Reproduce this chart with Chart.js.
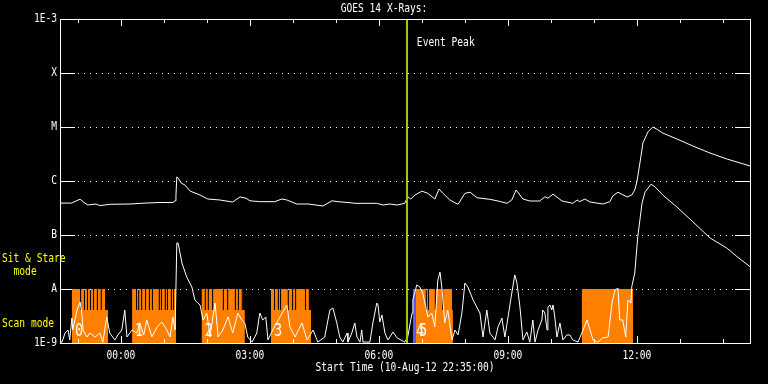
<!DOCTYPE html>
<html>
<head>
<meta charset="utf-8">
<script src="https://cdn.jsdelivr.net/npm/chart.js@4"></script>
<style>
  html, body { margin: 0; padding: 0; background: #000; }
  #wrap { width: 768px; height: 384px; }
</style>
</head>
<body>
<div id="wrap"><canvas id="goesChart" width="768" height="384"></canvas></div>
<script>
// time = hours from 00:00 on 11-Aug-12 (plot starts 10-Aug-12 22:35)
const xStart = -85 / 60;
const xEnd = 14.63;
const xTickHours = [0, 3, 6, 9, 12];
const xTickLabels = ['00:00', '03:00', '06:00', '09:00', '12:00'];
const yLevels = [1e-9, 1e-8, 1e-7, 1e-6, 1e-5, 1e-4, 1e-3];
const yLabels = ['1E-9', 'A', 'B', 'C', 'M', 'X', '1E-3'];
const eventPeak = 6.65;

// 1-8 A channel
const longTimes = [
  -1.42, -1.15, -0.95, -0.84, -0.77, -0.58, -0.49, -0.26, 0.21, 0.56,
  0.91, 1.21, 1.26, 1.28, 1.30, 1.33, 1.40, 1.49, 1.61, 1.84,
  2.02, 2.30, 2.60, 2.77, 2.91, 3.00, 3.23, 3.58, 3.74, 3.86,
  4.09, 4.35, 4.70, 4.91, 5.05, 5.33, 5.44, 5.95, 6.09, 6.26,
  6.42, 6.60, 6.67, 6.74, 6.84, 7.00, 7.14, 7.30, 7.40, 7.49,
  7.65, 7.84, 8.00, 8.12, 8.28, 8.58, 8.77, 8.98, 9.09, 9.19,
  9.35, 9.51, 9.74, 9.86, 9.93, 10.05, 10.26, 10.51, 10.61, 10.67,
  10.79, 10.91, 11.21, 11.37, 11.44, 11.56, 11.77, 11.88, 11.95, 12.00,
  12.07, 12.14, 12.26, 12.37, 12.47, 12.60, 12.93, 13.30, 13.70, 14.09,
  14.63
];
const longFlux = [
  3.9e-7, 3.9e-7, 4.6e-7, 3.9e-7, 3.6e-7, 3.75e-7, 3.5e-7, 3.7e-7, 3.75e-7, 3.9e-7,
  4.0e-7, 4.0e-7, 4.3e-7, 5.5e-7, 1.19e-6, 1.14e-6, 9.2e-7, 8.4e-7, 6.5e-7, 5.5e-7,
  4.64e-7, 4.45e-7, 4.08e-7, 5.06e-7, 4.8e-7, 4.3e-7, 4.14e-7, 4.14e-7, 4.64e-7, 4.45e-7,
  3.75e-7, 3.75e-7, 3.45e-7, 4.3e-7, 4.14e-7, 3.96e-7, 3.86e-7, 3.86e-7, 3.59e-7, 3.75e-7,
  3.59e-7, 3.86e-7, 5.1e-7, 4.64e-7, 5.5e-7, 6.5e-7, 5.9e-7, 4.64e-7, 7.1e-7, 5.9e-7,
  4.45e-7, 3.7e-7, 5.9e-7, 6.2e-7, 4.9e-7, 4.58e-7, 4.26e-7, 3.86e-7, 4.45e-7, 6.8e-7,
  4.64e-7, 4.26e-7, 4.26e-7, 5.1e-7, 4.8e-7, 5.7e-7, 4.26e-7, 3.86e-7, 4.45e-7, 4.14e-7,
  4.64e-7, 4.08e-7, 3.75e-7, 4.14e-7, 5.3e-7, 6.2e-7, 5.06e-7, 5.5e-7, 6.8e-7, 9.7e-7,
  2.15e-6, 5.06e-6, 8.2e-6, 1.0e-5, 9.06e-6, 7.74e-6, 6.0e-6, 4.45e-6, 3.3e-6, 2.56e-6,
  1.9e-6
];

// 0.5-4 A channel
const shortTimes = [
  -1.42, -1.37, -1.30, -1.23, -1.19, -1.14, -1.12, -1.02, -0.95, -0.91,
  -0.88, -0.79, -0.72, -0.60, -0.49, -0.42, -0.33, -0.26, -0.14, -0.07,
  0.02, 0.09, 0.14, 0.26, 0.37, 0.44, 0.53, 0.60, 0.72, 0.84,
  0.95, 1.07, 1.14, 1.21, 1.26, 1.30, 1.33, 1.42, 1.53, 1.60,
  1.65, 1.72, 1.79, 1.84, 1.91, 2.00, 2.07, 2.19, 2.26, 2.37,
  2.49, 2.60, 2.72, 2.81, 2.88, 2.95, 3.05, 3.16, 3.23, 3.30,
  3.37, 3.42, 3.53, 3.70, 3.86, 3.93, 4.05, 4.21, 4.33, 4.47,
  4.58, 4.74, 4.86, 4.93, 5.02, 5.09, 5.16, 5.26, 5.28, 5.37,
  5.44, 5.49, 5.56, 5.60, 5.63, 5.79, 5.86, 5.95, 5.98, 6.02,
  6.07, 6.14, 6.21, 6.33, 6.42, 6.60, 6.67, 6.77, 6.79, 6.88,
  6.95, 7.02, 7.14, 7.23, 7.30, 7.37, 7.42, 7.47, 7.53, 7.60,
  7.70, 7.77, 7.84, 7.93, 8.00, 8.07, 8.19, 8.35, 8.42, 8.51,
  8.58, 8.70, 8.77, 8.86, 8.93, 9.09, 9.16, 9.21, 9.28, 9.35,
  9.44, 9.51, 9.58, 9.63, 9.70, 9.79, 9.81, 9.86, 9.91, 9.93,
  9.98, 10.02, 10.05, 10.09, 10.14, 10.21, 10.28, 10.37, 10.44, 10.51,
  10.63, 10.72, 10.84, 10.91, 10.98, 11.09, 11.21, 11.33, 11.42, 11.49,
  11.56, 11.60, 11.67, 11.74, 11.79, 11.86, 11.88, 11.95, 12.02, 12.12,
  12.19, 12.33, 12.42, 12.60, 12.93, 13.30, 13.70, 14.09, 14.33, 14.63
];
const shortFlux = [
  1.04e-9, 1.04e-9, 1.53e-9, 1.74e-9, 1.14e-9, 2.9e-9, 1.74e-9, 4.08e-9, 5.74e-9, 3.59e-9,
  1.74e-9, 1.29e-9, 1.53e-9, 1.29e-9, 1.53e-9, 1.04e-9, 3.03e-9, 1.53e-9, 1.14e-9, 1.41e-9,
  1.74e-9, 4.08e-9, 1.29e-9, 1.74e-9, 1.53e-9, 2.35e-9, 1.41e-9, 2.67e-9, 1.29e-9, 1.98e-9,
  2.45e-9, 1.74e-9, 1.29e-9, 3.03e-9, 1.74e-9, 7.1e-8, 7.1e-8, 3.03e-8, 1.67e-8, 1.29e-8,
  1.09e-8, 6.26e-9, 5.5e-9, 5.06e-9, 2.67e-9, 3.59e-9, 1.29e-9, 5.5e-9, 1.29e-9, 1.74e-9,
  3.03e-9, 1.53e-9, 3.59e-9, 2.67e-9, 2.35e-9, 1.29e-9, 1.04e-9, 1.53e-9, 3.59e-9, 2.67e-9,
  3.03e-9, 1.14e-9, 1.74e-9, 3.03e-9, 5.06e-9, 1.98e-9, 1.29e-9, 2.35e-9, 1.14e-9, 1.74e-9,
  1.04e-9, 1.29e-9, 4.08e-9, 4.45e-9, 2.35e-9, 1.29e-9, 1.04e-9, 1.53e-9, 1.04e-9, 1.53e-9,
  2.35e-9, 1.29e-9, 1.04e-9, 1.74e-9, 1.04e-9, 1.04e-9, 2.35e-9, 5.5e-9, 5.06e-9, 2.45e-9,
  3.3e-9, 1.53e-9, 1.14e-9, 1.6e-9, 1.25e-9, 1.04e-9, 1.29e-9, 3.59e-9, 6.26e-9, 1.19e-8,
  1.09e-8, 8.43e-9, 3.03e-9, 3.59e-9, 1.98e-9, 1.47e-8, 2.06e-8, 9.58e-9, 2.35e-9, 4.08e-9,
  1.14e-9, 1.74e-9, 1.41e-9, 3.59e-9, 1.29e-8, 1.09e-8, 6.26e-9, 3.59e-9, 1.29e-9, 4.08e-9,
  1.53e-9, 1.14e-9, 1.98e-9, 2.9e-9, 1.29e-9, 8.43e-9, 1.82e-8, 1.29e-8, 4.64e-9, 1.14e-9,
  1.6e-9, 1.04e-9, 2.67e-9, 1.04e-9, 1.74e-9, 2.67e-9, 4.08e-9, 3.59e-9, 1.74e-9, 4.64e-9,
  5.06e-9, 4.08e-9, 5.06e-9, 3.03e-9, 1.29e-9, 2.35e-9, 1.14e-9, 1.41e-9, 1.41e-9, 1.14e-9,
  1.04e-9, 1.53e-9, 2.67e-9, 1.74e-9, 1.14e-9, 1.04e-9, 1.25e-9, 1.29e-9, 5.5e-9, 9.58e-9,
  1.04e-8, 2.67e-9, 2.67e-9, 1.29e-9, 6.26e-9, 5.5e-9, 1.1e-8, 1.98e-8, 9.3e-8, 3.92e-7,
  6.3e-7, 8.7e-7, 7.8e-7, 5.5e-7, 3.3e-7, 1.76e-7, 8.8e-8, 5.74e-8, 3.96e-8, 2.59e-8
];

// observing mode blocks (orange) and short scan-mode dips inside them
const modeBlockStart = [-1.14, 0.26, 1.88, 3.49, 6.86, 10.72];
const modeBlockEnd = [-0.30, 1.28, 2.88, 4.42, 7.72, 11.91];
const modeStareEnd = [-0.37, 1.28, 2.84, 4.37, 7.70, 11.91];
const modeBlockLabels = ['0', '1', '2', '3', '5', ''];
const scanDips = [
  -0.95, -0.86, -0.79, -0.72, -0.65, -0.56, -0.47,
  0.35, 0.40, 0.47, 0.56, 0.65, 0.72, 0.88, 0.93, 1.02, 1.07, 1.16, 1.21,
  1.95, 2.02, 2.12, 2.37, 2.47, 2.65, 2.72, 2.81,
  3.56, 3.65, 3.70, 3.88, 3.98, 4.05, 4.28,
  7.09, 7.14, 7.30, 7.47
];
const blueBlockStart = 6.79;
const blueBlockEnd = 6.86;
const blueBlockLabel = '4';

const MODE_OFF = 1e-9;
const MODE_SCAN = 4.08e-9;
const MODE_STARE = 1e-8;
const DIP_WIDTH = 0.025;

function modeSteps() {
  const pts = [{ x: xStart, y: MODE_OFF }];
  modeBlockStart.forEach((s, i) => {
    pts.push({ x: s, y: MODE_STARE });
    scanDips.filter(d => d > s && d < modeStareEnd[i]).forEach(d => {
      pts.push({ x: d, y: MODE_SCAN });
      pts.push({ x: d + DIP_WIDTH, y: MODE_STARE });
    });
    if (modeStareEnd[i] < modeBlockEnd[i]) pts.push({ x: modeStareEnd[i], y: MODE_SCAN });
    pts.push({ x: modeBlockEnd[i], y: MODE_OFF });
  });
  pts.push({ x: xEnd, y: MODE_OFF });
  return pts;
}

const toPoints = (ts, vs) => ts.map((t, i) => ({ x: t, y: vs[i] }));

function drawText(ctx, txt, x, y, align, color, size) {
  ctx.save();
  ctx.translate(x, y);
  ctx.scale(0.8, 1);
  ctx.font = size + 'px "DejaVu Sans Mono"';
  ctx.fillStyle = color;
  ctx.textAlign = align;
  ctx.textBaseline = 'middle';
  ctx.fillText(txt, 0, 0);
  ctx.restore();
}

const goesFrame = {
  id: 'goesFrame',
  beforeDatasetsDraw(chart) {
    const { ctx, chartArea: a, scales: { x, y } } = chart;
    ctx.save();
    ctx.strokeStyle = '#fff';
    ctx.lineWidth = 1;
    yLevels.slice(1, -1).forEach(v => {
      const py = Math.round(y.getPixelForValue(v)) + 0.5;
      ctx.setLineDash([]);
      ctx.beginPath();
      ctx.moveTo(a.left, py); ctx.lineTo(a.left + 15, py);
      ctx.moveTo(a.right - 15, py); ctx.lineTo(a.right, py);
      ctx.stroke();
      ctx.setLineDash([1, 5]);
      ctx.beginPath();
      ctx.moveTo(a.left + 18, py); ctx.lineTo(a.right - 15, py);
      ctx.stroke();
    });
    ctx.restore();
  },
  afterDatasetsDraw(chart) {
    const { ctx, chartArea: a, scales: { x, y } } = chart;
    ctx.save();
    // event peak line
    const ex = x.getPixelForValue(eventPeak);
    ctx.fillStyle = '#9acd00';
    ctx.fillRect(Math.round(ex) - 1, a.top, 2, a.bottom - a.top);
    // frame
    ctx.strokeStyle = '#fff';
    ctx.lineWidth = 1;
    ctx.strokeRect(a.left + 0.5, a.top + 0.5, a.right - a.left, a.bottom - a.top);
    // hourly ticks
    ctx.beginPath();
    for (let h = Math.ceil(xStart); h <= Math.floor(xEnd); h++) {
      const px = Math.round(x.getPixelForValue(h)) + 0.5;
      const len = h % 3 === 0 ? 7 : 4;
      ctx.moveTo(px, a.top); ctx.lineTo(px, a.top + len);
      ctx.moveTo(px, a.bottom); ctx.lineTo(px, a.bottom - len);
    }
    ctx.stroke();
    // block numbers
    modeBlockStart.forEach((s, i) => {
      if (modeBlockLabels[i]) drawText(ctx, modeBlockLabels[i], x.getPixelForValue(s) + 3, a.bottom - 11, 'left', '#fff', 17);
    });
    drawText(ctx, blueBlockLabel, x.getPixelForValue(blueBlockStart) + 3, a.bottom - 11, 'left', '#fff', 17);
    // texts
    drawText(ctx, 'GOES 14 X-Rays:', chart.width / 2, 9, 'center', '#fff', 12);
    yLevels.forEach((v, i) => drawText(ctx, yLabels[i], a.left - 3, y.getPixelForValue(v), 'right', '#fff', 12));
    xTickHours.forEach((h, i) => drawText(ctx, xTickLabels[i], x.getPixelForValue(h), a.bottom + 13, 'center', '#fff', 12));
    drawText(ctx, 'Start Time (10-Aug-12 22:35:00)', (a.left + a.right) / 2, a.bottom + 25, 'center', '#fff', 12);
    drawText(ctx, 'Event Peak', ex + 10, a.top + 24, 'left', '#fff', 12);
    const aPx = y.getPixelForValue(1e-8);
    drawText(ctx, 'Sit & Stare', 2, aPx - 30, 'left', '#ffff00', 12);
    drawText(ctx, '  mode', 2, aPx - 17, 'left', '#ffff00', 12);
    drawText(ctx, 'Scan mode', 2, a.bottom - 19, 'left', '#ffff00', 12);
    ctx.restore();
  }
};

new Chart(document.getElementById('goesChart').getContext('2d'), {
  type: 'line',
  data: {
    datasets: [
      {
        label: 'long',
        data: toPoints(longTimes, longFlux),
        borderColor: '#fff', borderWidth: 1, pointRadius: 0, tension: 0, order: 0
      },
      {
        label: 'short',
        data: toPoints(shortTimes, shortFlux),
        borderColor: '#fff', borderWidth: 1, pointRadius: 0, tension: 0, order: 0
      },
      {
        label: 'mode',
        data: modeSteps(),
        stepped: true, fill: 'start',
        backgroundColor: '#ff8000', borderColor: 'rgba(0,0,0,0)', borderWidth: 0,
        pointRadius: 0, order: 2
      },
      {
        label: 'mode blue',
        data: [{ x: xStart, y: MODE_OFF }, { x: blueBlockStart, y: MODE_STARE }, { x: blueBlockEnd, y: MODE_OFF }, { x: xEnd, y: MODE_OFF }],
        stepped: true, fill: 'start',
        backgroundColor: '#5a5aff', borderColor: 'rgba(0,0,0,0)', borderWidth: 0,
        pointRadius: 0, order: 2
      }
    ]
  },
  options: {
    responsive: false,
    animation: false,
    layout: { padding: { left: 60, top: 19, right: 18, bottom: 41 } },
    scales: {
      x: { type: 'linear', min: xStart, max: xEnd, display: false },
      y: { type: 'logarithmic', min: 1e-9, max: 1e-3, display: false }
    },
    plugins: { legend: { display: false }, tooltip: { enabled: false } }
  },
  plugins: [goesFrame]
});
</script>
</body>
</html>
